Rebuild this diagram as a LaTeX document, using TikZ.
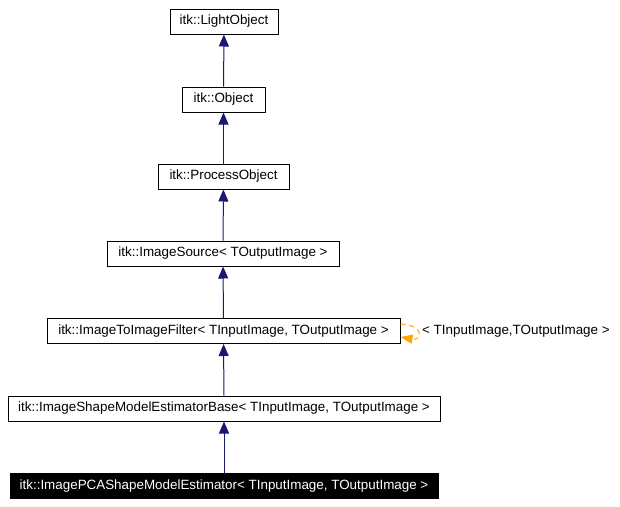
\documentclass[tikz,border=0pt]{standalone}
\usepackage{fontspec}
\setmainfont{Liberation Sans}
\usetikzlibrary{arrows.meta,positioning}
\definecolor{edgeblue}{HTML}{191970}
\definecolor{loopor}{HTML}{FFA500}
\tikzset{
  cls/.style={draw, line width=1pt, minimum height=25pt, inner sep=0pt, font=\fontsize{13.4}{14}\selectfont},
  inh/.style={-{Triangle[length=12pt,width=10pt]}, edgeblue, line width=1pt},
}
\begin{document}
\begin{tikzpicture}[x=1pt,y=-1pt]
            \useasboundingbox (0,0) rectangle (620,506);
            % Class hierarchy
            \node[cls, minimum width=108pt] (lobj) at (224,21.5) {itk::LightObject};
            \node[cls, minimum width=83pt] (obj) at (223.5,99.5) {itk::Object};
            \node[cls, minimum width=131pt] (pobj) at (223.5,176.5) {itk::ProcessObject};
            \node[cls, minimum width=232pt] (isrc) at (223,253.5) {itk::ImageSource< TOutputImage >};
            \node[cls, minimum width=353pt] (filt) at (223.5,331) {itk::ImageToImageFilter< TInputImage, TOutputImage >};
            \node[cls, minimum width=432pt] (base) at (224,408.5) {itk::ImageShapeModelEstimatorBase< TInputImage, TOutputImage >};
            \node[cls, fill=black, text=white, minimum width=428pt] (pca) at (224,486) {itk::ImagePCAShapeModelEstimator< TInputImage, TOutputImage >};

            % Inheritance arrows
            \draw[inh] (obj) -- (lobj);
            \draw[inh] (pobj) -- (obj);
            \draw[inh] (isrc) -- (pobj);
            \draw[inh] (filt) -- (isrc);
            \draw[inh] (base) -- (filt);
            \draw[inh] (pca) -- (base);

            % Template self link
            \draw[loopor, line width=1pt, dash pattern=on 5pt off 4pt, -{Triangle[length=12pt,width=9pt]}]
              ([yshift=7pt]filt.east) .. controls +(24,1) and +(22,4) .. ([yshift=-6pt]filt.east);
            \node[anchor=west, inner sep=0pt, font=\fontsize{13.4}{14}\selectfont] (tmpl) at (422,331) {< TInputImage,TOutputImage >};
        \end{tikzpicture}
\end{document}
